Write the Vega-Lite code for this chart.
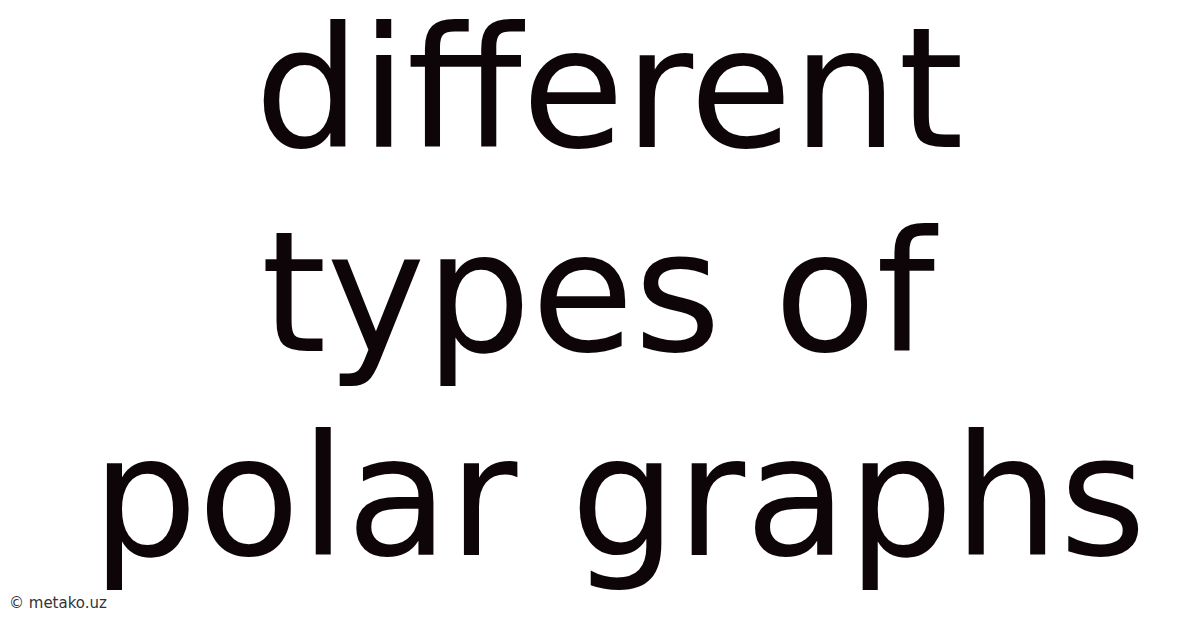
{
  "$schema": "https://vega.github.io/schema/vega-lite/v6.json",
  "width": 1200,
  "height": 628,
  "autosize": {"type": "fit", "contains": "padding"},
  "padding": 0,
  "background": "#ffffff",
  "config": {"view": {"stroke": null}},
  "data": {"values": [
    {"line": 1, "label": "different", "kind": "title"},
    {"line": 2, "label": "types of", "kind": "title"},
    {"line": 3, "label": "polar graphs", "kind": "title"},
    {"line": 4, "label": "© metako.uz", "kind": "mark"}
  ]},
  "encoding": {
    "y": {"field": "line", "type": "quantitative", "scale": {"domain": [1, 3], "range": [147, 555], "zero": false, "nice": false}, "axis": null}
  },
  "layer": [
    {
      "transform": [{"filter": "datum.line == 1"}],
      "mark": {"type": "text", "font": "DejaVu Sans", "fontSize": 167, "align": "center", "baseline": "alphabetic", "color": "#0d0507"},
      "encoding": {"x": {"value": 609}, "text": {"field": "label"}}
    },
    {
      "transform": [{"filter": "datum.line == 2"}],
      "mark": {"type": "text", "font": "DejaVu Sans", "fontSize": 167, "align": "center", "baseline": "alphabetic", "color": "#0d0507"},
      "encoding": {"x": {"value": 598}, "text": {"field": "label"}}
    },
    {
      "transform": [{"filter": "datum.line == 3"}],
      "mark": {"type": "text", "font": "DejaVu Sans", "fontSize": 167, "align": "center", "baseline": "alphabetic", "color": "#0d0507"},
      "encoding": {"x": {"value": 619}, "text": {"field": "label"}}
    },
    {
      "transform": [{"filter": "datum.kind == 'mark'"}],
      "mark": {"type": "text", "font": "DejaVu Sans", "fontSize": 15, "align": "left", "baseline": "alphabetic", "color": "#333333"},
      "encoding": {"x": {"value": 9}, "y": {"value": 608}, "text": {"field": "label"}}
    }
  ]
}
